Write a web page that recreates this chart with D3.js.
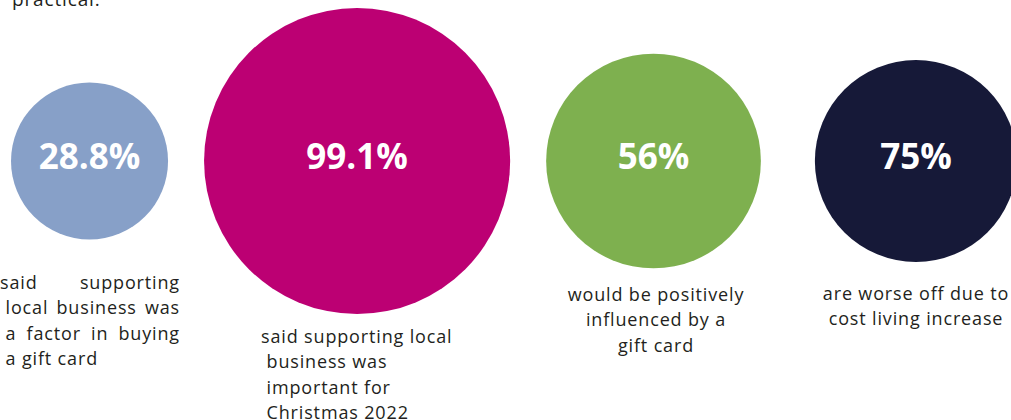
<!DOCTYPE html>
<html>
<head>
<meta charset="utf-8">
<script src="https://cdn.jsdelivr.net/npm/d3@7"></script>
<style>
  html, body { margin: 0; padding: 0; background: #fff; overflow: hidden; }
</style>
</head>
<body>
<script>
const W = 1011, H = 420;

// data
const categories = ["factor", "important", "influenced", "worseOff"];
const values = [28.8, 99.1, 56, 75];
const valueLabels = ["28.8%", "99.1%", "56%", "75%"];
const captions = [
    ["said supporting", " local business was", " a factor in buying", " a gift card"],
    ["said supporting local", " business was", " important for", " Christmas 2022"],
    ["would be positively", "influenced by a", "gift card"],
    ["are worse off due to", "cost living increase"]
];
const fills = ["#87a0c8", "#bc0073", "#7eb04f", "#161938"];
const introText = "practical.";

// layout only: gap before each bubble, caption placement
const gaps = [0, 36, 36, 54];
const captionLayout = [
    {align: "justify", x0: 0, x1: 180, y: 289},
    {align: "start", x0: 261, y: 343},
    {align: "middle", x0: 656, y: 301},
    {align: "middle", x0: 916, y: 300}
];

const BODY_FONT = "'Open Sans', sans-serif";
const NUM_FONT = "'Open Sans', sans-serif";
const TEXT_COLOR = "#231f20";
const BODY_SIZE = 18;
const TRACKING = "0.85px";
const LINE_H = 25.3;
const CY = 161;

const rScale = d3.scaleLinear().domain([0, 100]).range([48, 154]);

// pack the bubbles left to right, last one kept inside the frame
const bubbles = [];
let left = 11;
categories.forEach((c, i) => {
    left += gaps[i];
    let r = rScale(values[i]);
    r = Math.min(r, (W + 6 - left) / 2);
    bubbles.push({cat: c, value: values[i], label: valueLabels[i], fill: fills[i], r, cx: left + r});
    left += 2 * r;
});

const svg = d3.select("body").append("svg")
    .attr("width", W)
    .attr("height", H)
    .attr("viewBox", [0, 0, W, H]);

svg.append("text")
    .attr("x", 12)
    .attr("y", 6)
    .attr("fill", TEXT_COLOR)
    .style("font", `19px ${BODY_FONT}`)
    .style("letter-spacing", TRACKING)
    .text(introText);

const g = svg.append("g")
    .selectAll("g")
    .data(bubbles)
    .join("g")
    .attr("transform", d => `translate(${d.cx},${CY})`);

g.append("circle")
    .attr("r", d => d.r)
    .attr("fill", d => d.fill);

g.append("text")
    .attr("y", 8)
    .attr("text-anchor", "middle")
    .attr("fill", "#fff")
    .style("font", `700 35px ${NUM_FONT}`)
    .text(d => d.label);

// captions
const measure = svg.append("text")
    .style("font", `${BODY_SIZE}px ${BODY_FONT}`)
    .style("letter-spacing", TRACKING)
    .attr("visibility", "hidden");
function textWidth(s) {
    measure.text(s);
    return measure.node().getComputedTextLength();
}
const spaceW = textWidth("a a") - textWidth("aa");

const capG = svg.append("g")
    .attr("fill", TEXT_COLOR)
    .style("font", `${BODY_SIZE}px ${BODY_FONT}`)
    .style("letter-spacing", TRACKING);

captions.forEach((lines, i) => {
    const lay = captionLayout[i];
    lines.forEach((line, j) => {
        const y = lay.y + j * LINE_H;
        const indent = line.startsWith(" ") ? spaceW : 0;
        const txt = line.trim();
        if (lay.align === "justify" && j < lines.length - 1) {
            const words = txt.split(" ");
            const widths = words.map(textWidth);
            const start = lay.x0 + indent;
            const gap = (lay.x1 - start - d3.sum(widths)) / (words.length - 1);
            let x = start;
            words.forEach((w, k) => {
                capG.append("text").attr("x", x).attr("y", y).text(w);
                x += widths[k] + gap;
            });
        } else if (lay.align === "middle") {
            capG.append("text")
                .attr("x", lay.x0)
                .attr("y", y)
                .attr("text-anchor", "middle")
                .text(txt);
        } else {
            capG.append("text")
                .attr("x", lay.x0 + indent)
                .attr("y", y)
                .text(txt);
        }
    });
});
measure.remove();
</script>
</body>
</html>
